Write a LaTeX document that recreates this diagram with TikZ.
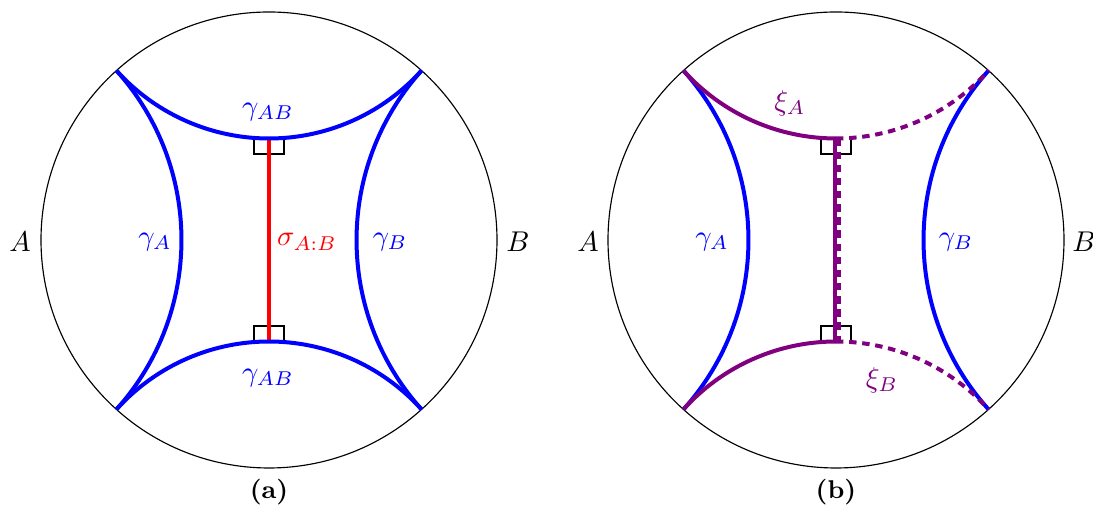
\documentclass[tikz,border=0pt]{standalone}
\usetikzlibrary{calc}
\definecolor{xipurple}{RGB}{128,0,128}
\begin{document}
\begin{tikzpicture}[x=0.35pt,y=0.35pt,
  bdry/.style={black,line width=0.4pt},
  geo/.style={blue,line width=1.4pt},
  sig/.style={red,line width=1.4pt},
  xi/.style={xipurple,line width=1.4pt},
  xidash/.style={xipurple,line width=1.4pt,dash pattern=on 2.6pt off 2pt},
  rt/.style={black,line width=0.7pt},
  lbl/.style={inner sep=0pt},
  caplabel/.style={inner sep=0pt,font=\small\bfseries},
]
\useasboundingbox (0,0) rectangle (1093,506);
% ---------- left disk ----------
\coordinate (CL) at (269,266);
\coordinate (LT) at ($(CL)+(0,101.51)$);
\coordinate (LB) at ($(CL)+(0,-101.51)$);
\draw[bdry] (CL) circle[radius=228];
\draw[rt] ($(LT)+(-15,0)$) -- ++(0,-16) -- ++(30,0) -- ++(0,16);
\draw[rt] ($(LB)+(-15,0)$) -- ++(0,16) -- ++(30,0) -- ++(0,-16);
\draw[sig] (LT) -- (LB);
\draw[geo] (CL) ++(90:306.80) ++(222:205.29) arc[start angle=222,end angle=318,radius=205.29];
\draw[geo] (CL) ++(270:306.80) ++(42:205.29) arc[start angle=42,end angle=138,radius=205.29];
\draw[geo] (CL) ++(180:340.74) ++(-42:253.22) arc[start angle=-42,end angle=42,radius=253.22];
\draw[geo] (CL) ++(0:340.74) ++(138:253.22) arc[start angle=138,end angle=222,radius=253.22];
\node[lbl] (la) at (20,264) {$A$};
\node[lbl] (lb) at (518,264) {$B$};
\node[lbl,text=blue] (lga) at (155,264) {$\gamma_A$};
\node[lbl,text=blue] (lgb) at (390,264) {$\gamma_B$};
\node[lbl,text=blue] (lgt) at (268,394) {$\gamma_{AB}$};
\node[lbl,text=blue] (lgbot) at (268,128) {$\gamma_{AB}$};
\node[lbl,text=red] (lsig) at (307,264) {$\sigma_{A:B}$};
\node[caplabel] (capa) at (269,14) {(a)};
% ---------- right disk ----------
\coordinate (CR) at (836,266);
\coordinate (RT) at ($(CR)+(-1.5,101.51)$);
\coordinate (RB) at ($(CR)+(-1.5,-101.51)$);
\coordinate (RTd) at ($(CR)+(2.5,101.51)$);
\coordinate (RBd) at ($(CR)+(2.5,-101.51)$);
\draw[bdry] (CR) circle[radius=228];
\draw[rt] ($(CR)+(-15,101.51)$) -- ++(0,-16) -- ++(30,0) -- ++(0,16);
\draw[rt] ($(CR)+(-15,-101.51)$) -- ++(0,16) -- ++(30,0) -- ++(0,-16);
\draw[geo] (CR) ++(180:340.74) ++(-42:253.22) arc[start angle=-42,end angle=42,radius=253.22];
\draw[geo] (CR) ++(0:340.74) ++(138:253.22) arc[start angle=138,end angle=222,radius=253.22];
\draw[xi] (CR) ++(90:306.80) ++(222:205.29) arc[start angle=222,end angle=270,radius=205.29];
\draw[xidash] (CR) ++(90:306.80) ++(270:205.29) arc[start angle=270,end angle=318,radius=205.29];
\draw[xi] (CR) ++(270:306.80) ++(138:205.29) arc[start angle=138,end angle=90,radius=205.29];
\draw[xidash] (CR) ++(270:306.80) ++(90:205.29) arc[start angle=90,end angle=42,radius=205.29];
\draw[xi] (RT) -- (RB);
\draw[xidash] (RTd) -- (RBd);
\node[lbl] (ra) at (588,264) {$A$};
\node[lbl] (rb) at (1084,264) {$B$};
\node[lbl,text=blue] (rga) at (712,264) {$\gamma_A$};
\node[lbl,text=blue] (rgb) at (956,264) {$\gamma_B$};
\node[lbl,text=xipurple] (rxa) at (790,403) {$\xi_A$};
\node[lbl,text=xipurple] (rxb) at (882,126) {$\xi_B$};
\node[caplabel] (capb) at (836,14) {(b)};
\end{tikzpicture}
\end{document}
